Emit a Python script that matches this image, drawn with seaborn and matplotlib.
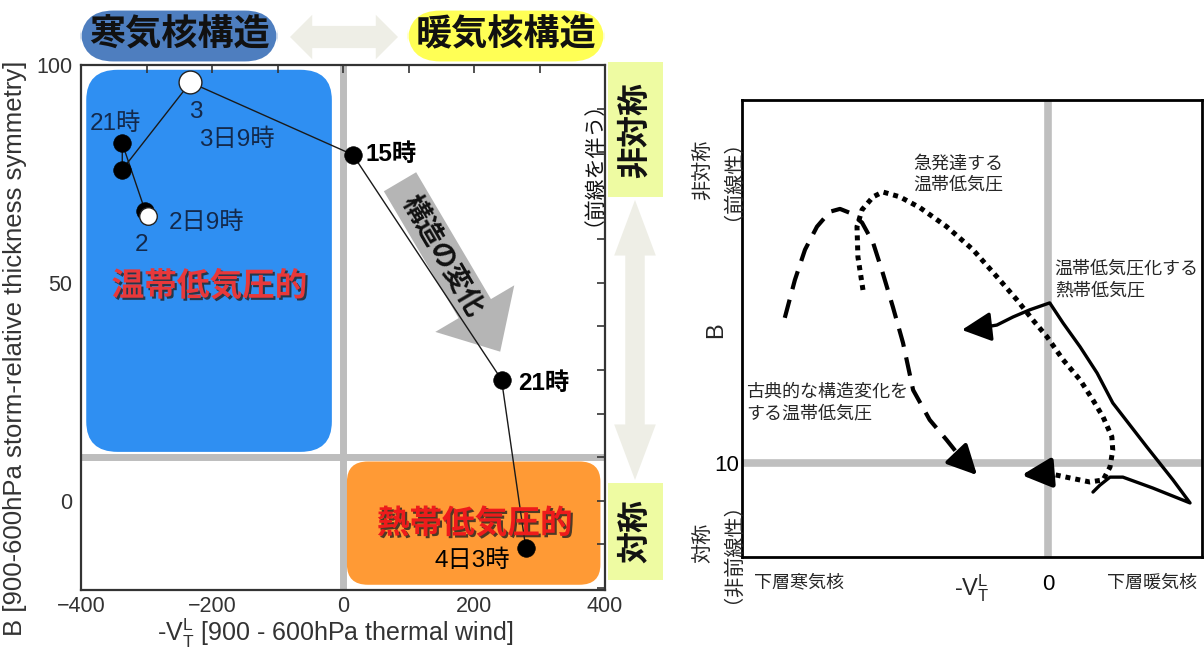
import numpy as np
import pandas as pd
import matplotlib
matplotlib.use("Agg")
import matplotlib.pyplot as plt
import matplotlib.patheffects as pe
from matplotlib.patches import FancyBboxPatch, FancyArrowPatch
import seaborn as sns

# ---------------- data: left chart (cyclone phase space trajectory) ----------------
times = ["2日9時", "2日15時", "2日21時", "3日3時", "3日9時", "3日15時", "3日21時", "4日3時"]
vtl = [-298, -302, -337, -337, -233, 15, 242, 279]
bval = [65.3, 66.5, 82.0, 76.0, 96.0, 79.4, 27.8, -10.8]
is_open = [True, False, False, False, True, False, False, False]

x_ticks = [-400, -200, 0, 200, 400]
y_ticks = [0, 50, 100]

# ---------------- data: right chart (schematic paths) ----------------
classic_x = [-57.2, -55.0, -52.8, -50.2, -47.4, -45.2, -43.0, -40.4, -38.0, -35.9,
             -33.7, -31.5, -29.3, -25.7, -22.0, -18.5, -15.4]
classic_y = [46.0, 55.4, 62.9, 68.6, 72.3, 73.0, 72.0, 69.6, 64.6, 57.1,
             48.7, 39.8, 28.1, 20.7, 15.7, 10.7, 7.0]

bomb_x = [-40.2, -41.3, -41.5, -40.4, -38.0, -35.9, -32.2, -27.8, -22.0, -16.3,
          -11.1, -6.7, -3.3, -0.2, 3.3, 7.0, 9.8, 12.0, 13.9, 14.1,
          13.5, 12.0, 9.1, 4.8, -0.2, -5.7]
bomb_y = [52.9, 61.1, 68.6, 72.8, 76.0, 77.2, 76.0, 73.3, 68.6, 62.9,
          56.2, 50.4, 45.5, 41.3, 35.6, 30.6, 25.6, 21.4, 16.5, 13.2,
          9.0, 5.8, 5.3, 6.3, 7.5, 7.0]

et_x = [9.8, 11.3, 13.5, 16.3, 22.8, 30.9, 27.2, 21.5, 14.1, 10.7,
        7.0, 3.3, 0.4, -3.9, -7.6, -11.1, -14.8, -18.7]
et_y = [2.8, 4.5, 6.5, 6.5, 3.8, 0.1, 5.8, 14.0, 24.9, 32.3,
        38.8, 44.7, 49.7, 48.0, 46.2, 44.2, 43.5, 43.0]

# ---------------- style ----------------
sns.set_style("white")
plt.rcParams["font.family"] = ["Liberation Sans", "Noto Sans CJK JP", "DejaVu Sans"]
plt.rcParams["mathtext.fontset"] = "custom"
plt.rcParams["mathtext.rm"] = "Liberation Sans"
plt.rcParams["mathtext.it"] = "Liberation Sans:italic"
plt.rcParams["axes.unicode_minus"] = True

W, H = 1204, 648
fig = plt.figure(figsize=(W / 100, H / 100), dpi=100)
fig.patch.set_facecolor("white")


def fx(px):
    return px / W


def fy(py):
    return 1 - py / H


# ======================= LEFT CHART =======================
axL = fig.add_axes([fx(81), fy(590), fx(605) - fx(81), fy(65) - fy(590)])
axL.set_xlim(-400, 400)
axL.set_ylim(-20.5, 100)

# background regions
blue = FancyBboxPatch((-392, 11.2), 375, 87.7,
                      boxstyle="round,pad=0,rounding_size=48",
                      mutation_aspect=0.145, fc="#2F8FF2", ec="none", zorder=0.5)
axL.add_patch(blue)
orange = FancyBboxPatch((6, -19.3), 387, 28.3,
                        boxstyle="round,pad=0,rounding_size=32",
                        mutation_aspect=0.145, fc="#FF9A35", ec="none", zorder=0.5)
axL.add_patch(orange)

axL.axvline(0, color="#BDBDBD", lw=5, zorder=0.4)
axL.axhline(10, color="#BDBDBD", lw=5, zorder=0.4)

# big structure-change arrow
big = FancyArrowPatch((87, 73.2), (240, 34.2),
                      arrowstyle="simple,head_length=36,head_width=66,tail_width=27",
                      mutation_scale=1, fc="#B5B5B5", ec="none", zorder=1,
                      shrinkA=0, shrinkB=0)
axL.add_patch(big)
axL.text(150, 56, "構造の変化", rotation=-59.7, rotation_mode="anchor",
         ha="center", va="center", fontsize=19.5, fontweight="bold",
         color="#111111", zorder=1.5)

df = pd.DataFrame({"time": times, "vtl": vtl, "b": bval, "open": is_open})
sns.lineplot(data=df, x="vtl", y="b", sort=False, estimator=None,
             color="#1a1a1a", lw=1.0, ax=axL, zorder=2)
filled = df[~df["open"]]
opened = df[df["open"]]
sns.scatterplot(data=filled, x="vtl", y="b", s=160, color="black",
                edgecolor="black", linewidth=0.5, ax=axL, zorder=3)
sns.scatterplot(data=opened.iloc[[0]], x="vtl", y="b", s=160, color="white",
                edgecolor="#222222", linewidth=1.0, ax=axL, zorder=4)
sns.scatterplot(data=opened.iloc[[1]], x="vtl", y="b", s=270, color="white",
                edgecolor="#222222", linewidth=1.0, ax=axL, zorder=4)

navy = "#13294B"
fs_lab = 17.5
axL.text(-348, 86.5, "21時", ha="center", va="center", fontsize=fs_lab, color=navy, zorder=5)
axL.text(-224, 89.2, "3", ha="center", va="center", fontsize=fs_lab, color=navy, zorder=5)
axL.text(-162, 82.8, "3日9時", ha="center", va="center", fontsize=fs_lab, color=navy, zorder=5)
axL.text(-208, 63.8, "2日9時", ha="center", va="center", fontsize=fs_lab, color=navy, zorder=5)
axL.text(-308, 58.7, "2", ha="center", va="center", fontsize=fs_lab, color=navy, zorder=5)
axL.text(34, 79.4, "15時", ha="left", va="center", fontsize=fs_lab, fontweight="bold",
         color="black", zorder=5)
axL.text(268, 26.8, "21時", ha="left", va="center", fontsize=fs_lab, fontweight="bold",
         color="black", zorder=5)
axL.text(197, -13.9, "4日3時", ha="center", va="center", fontsize=fs_lab, color="black",
         zorder=5)

shadow = [pe.SimplePatchShadow(offset=(1.5, -1.5), shadow_rgbFace="#222222", alpha=0.8),
          pe.Normal()]
axL.text(-204, 49, "温帯低気圧的", ha="center", va="center", fontsize=23.5,
         fontweight="bold", color="#E8383A", path_effects=shadow, zorder=5)
axL.text(201, -5.5, "熱帯低気圧的", ha="center", va="center", fontsize=23.5,
         fontweight="bold", color="#EE1B1B", path_effects=shadow, zorder=5)

axL.set_xticks(x_ticks)
axL.set_xticks(np.arange(-400, 401, 100), minor=True)
axL.set_yticks(y_ticks)
axL.set_yticks(np.arange(-20, 101, 10), minor=True)
axL.tick_params(which="both", direction="in", length=6, width=1.2, color="#333333",
                top=True, right=True, labelsize=15.5, labelcolor="#333333", pad=6)
axL.tick_params(axis="x", pad=4)
for s in axL.spines.values():
    s.set_color("#333333")
    s.set_linewidth(1.6)
axL.set_xlabel("-V$_{\\mathregular{T}}^{\\mathregular{L}}$ [900 - 600hPa thermal wind]",
               fontsize=18, color="#333333")
axL.set_ylabel("B [900-600hPa storm-relative thickness symmetry]", fontsize=18.5,
               color="#333333")
axL.xaxis.set_label_coords(0.485, -0.05)
axL.yaxis.set_label_coords(-0.103, 0.46)

# header boxes and arrows
fig.text(fx(179), fy(36), "寒気核構造", ha="center", va="center", fontsize=26,
         fontweight="bold", color="#111111",
         bbox=dict(boxstyle="round,pad=0.22,rounding_size=0.9", fc="#4E7EBF", ec="none"))
fig.text(fx(506), fy(36), "暖気核構造", ha="center", va="center", fontsize=26,
         fontweight="bold", color="#111111",
         bbox=dict(boxstyle="round,pad=0.22,rounding_size=0.9", fc="#FFFF55", ec="none"))
for end in (290, 398):
    fig.add_artist(FancyArrowPatch((fx(344), fy(37)), (fx(end), fy(37)),
                                   transform=fig.transFigure,
                                   arrowstyle="simple,head_length=16,head_width=32,tail_width=16",
                                   mutation_scale=1, fc="#EEEEE6", ec="none",
                                   shrinkA=0, shrinkB=0))
for end in (200, 480):
    fig.add_artist(FancyArrowPatch((fx(635), fy(340)), (fx(635), fy(end)),
                                   transform=fig.transFigure,
                                   arrowstyle="simple,head_length=40,head_width=30,tail_width=14",
                                   mutation_scale=1, fc="#EEEEE6", ec="none",
                                   shrinkA=0, shrinkB=0))

ygreen = "#EEFBA2"
fig.add_artist(FancyBboxPatch((fx(567), fy(240)), fx(600) - fx(567), fy(65) - fy(240),
                              boxstyle="square,pad=0", transform=fig.transFigure,
                              fc=ygreen, ec="none", zorder=0))
fig.text(fx(583), fy(153), "（前線を伴う）", rotation=90, ha="center", va="center",
         fontsize=15, color="#111111", zorder=3)
fig.add_artist(FancyBboxPatch((fx(608), fy(197)), fx(663) - fx(608), fy(62) - fy(197),
                              boxstyle="square,pad=0", transform=fig.transFigure,
                              fc=ygreen, ec="none", zorder=0))
fig.text(fx(636), fy(130), "非対称", rotation=90, ha="center", va="center",
         fontsize=23, fontweight="bold", color="#111111")
fig.add_artist(FancyBboxPatch((fx(608), fy(580)), fx(663) - fx(608), fy(483) - fy(580),
                              boxstyle="square,pad=0", transform=fig.transFigure,
                              fc=ygreen, ec="none", zorder=0))
fig.text(fx(636), fy(531), "対称", rotation=90, ha="center", va="center",
         fontsize=23, fontweight="bold", color="#111111")

# ======================= RIGHT CHART =======================
axR = fig.add_axes([fx(742), fy(557), fx(1202) - fx(742), fy(100) - fy(557)])
axR.set_xlim(-66.5, 33.5)
axR.set_ylim(-13.3, 100)
axR.axvline(0, color="#BFBFBF", lw=5.5, zorder=0.5)
axR.axhline(10, color="#BFBFBF", lw=5.5, zorder=0.5)

paths = [
    (classic_x, classic_y, (0, (4.5, 2.6)), 3.0),
    (bomb_x, bomb_y, (0, (1.0, 1.0)), 3.6),
    (et_x, et_y, "-", 2.4),
]
for px_, py_, ls, lw in paths:
    sns.lineplot(x=px_[:-1], y=py_[:-1], sort=False, estimator=None, color="black",
                 lw=lw, linestyle=ls, ax=axR, zorder=2)
    axR.annotate("", xy=(px_[-1], py_[-1]), xytext=(px_[-2], py_[-2]),
                 arrowprops=dict(arrowstyle="-|>,head_length=0.9,head_width=0.45",
                                 color="black", lw=lw, mutation_scale=20,
                                 shrinkA=0, shrinkB=0), zorder=3)

axR.text(-29.3, 81.5, "急発達する\n温帯低気圧", ha="left", va="center", fontsize=13,
         linespacing=1.35)
axR.text(1.5, 55.4, "温帯低気圧化する\n熱帯低気圧", ha="left", va="center", fontsize=13,
         linespacing=1.35)
axR.text(-65.6, 24.9, "古典的な構造変化を\nする温帯低気圧", ha="left", va="center",
         fontsize=13, linespacing=1.35)

axR.set_xticks([0])
axR.set_xticklabels(["0"])
axR.set_yticks([10])
axR.set_yticklabels(["10"])
axR.tick_params(length=0, labelsize=16, labelcolor="black")
axR.tick_params(axis="x", pad=12)
axR.tick_params(axis="y", pad=2)
for s in axR.spines.values():
    s.set_color("black")
    s.set_linewidth(2)
axR.set_xlabel("")
axR.set_ylabel("")

fig.text(fx(799), fy(583), "下層寒気核", ha="center", va="center", fontsize=13)
fig.text(fx(1152), fy(583), "下層暖気核", ha="center", va="center", fontsize=13)
fig.text(fx(972), fy(588), "-V$_{\\mathregular{T}}^{\\mathregular{L}}$", ha="center",
         va="center", fontsize=17)
fig.text(fx(716), fy(330), "B", rotation=90, ha="center", va="center", fontsize=17)
fig.text(fx(713), fy(170), "非対称\n（前線性）", rotation=90, ha="center", va="center",
         fontsize=14.5, linespacing=1.0)
fig.text(fx(713), fy(543), "対称\n（非前線性）", rotation=90, ha="center", va="center",
         fontsize=14.5, linespacing=1.0)

fig.savefig("out.png", dpi=100)
